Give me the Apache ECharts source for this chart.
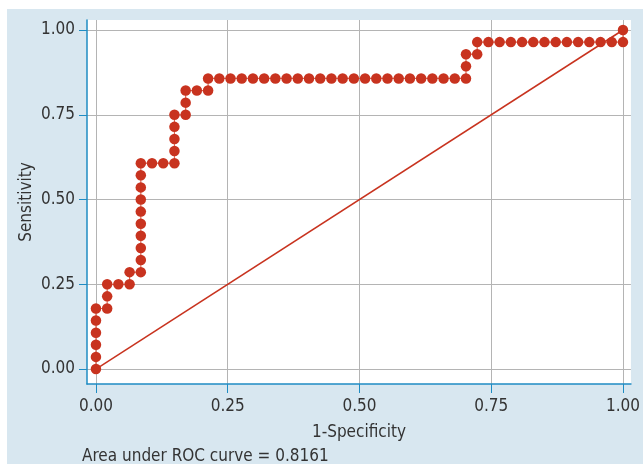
<!DOCTYPE html>
<html>
<head>
<meta charset="utf-8">
<script src="https://cdn.jsdelivr.net/npm/echarts@6/dist/echarts.min.js"></script>
<style>
  html, body { margin: 0; padding: 0; background: #fff; }
  #chart { position: absolute; left: 7px; top: 9px; width: 636px; height: 455px; }
</style>
</head>
<body>
<div id="chart"></div>
<script>
// ROC points as counts: false positives (of 47 negatives), true positives (of 28 positives)
var nNeg = 47;
var nPos = 28;
var fpCounts = [0,0,0,0,0,0, 1,1,1, 2, 3,3, 4,4,4,4,4,4,4,4,4,4, 5,6, 7,7,7,7,7, 8,8,8, 9, 10,10,
  11,12,13,14,15,16,17,18,19,20,21,22,23,24,25,26,27,28,29,30,31,32,33,
  33,33, 34,34, 35,36,37,38,39,40,41,42,43,44,45,46,47, 47];
var tpCounts = [0,1,2,3,4,5, 5,6,7, 7, 7,8, 8,9,10,11,12,13,14,15,16,17, 17,17, 17,18,19,20,21, 21,22,23, 23, 23,24,
  24,24,24,24,24,24,24,24,24,24,24,24,24,24,24,24,24,24,24,24,24,24,24,
  25,26, 26,27, 27,27,27,27,27,27,27,27,27,27,27,27,27, 28];
var tickValues = [0, 0.25, 0.5, 0.75, 1];
var reference = [[0, 0], [1, 1]];
var aucText = 'Area under ROC curve = 0.8161';

var rocData = [];
for (var i = 0; i < fpCounts.length; i++) {
  rocData.push([fpCounts[i] / nNeg, tpCounts[i] / nPos]);
}

var font = "'Liberation Sans Narrow', 'DejaVu Sans Condensed', sans-serif";
var axisBlue = '#1f8cc3';
var red = '#c8331f';

var chart = echarts.init(document.getElementById('chart'));
chart.setOption({
  backgroundColor: '#d8e7f0',
  animation: false,
  textStyle: { fontFamily: font },
  title: {
    text: aucText,
    left: 70,
    top: 434,
    textStyle: { fontFamily: font, fontSize: 17, fontWeight: 'normal', color: '#333' }
  },
  grid: {
    left: 80, top: 11, width: 546, height: 364,
    show: true, backgroundColor: '#fff', borderWidth: 0
  },
  xAxis: {
    type: 'value',
    min: -0.017, max: 1.0151,
    name: '1-Specificity',
    nameLocation: 'middle',
    nameGap: 40,
    nameTextStyle: { fontFamily: font, fontSize: 17, color: '#333' },
    axisLine: { show: true, onZero: false, lineStyle: { color: axisBlue, width: 1.5 } },
    axisTick: { show: true, length: 9, customValues: tickValues, lineStyle: { color: axisBlue, width: 1 } },
    axisLabel: {
      customValues: tickValues, margin: 14, fontSize: 17, color: '#333', fontFamily: font,
      formatter: function (v) { return v.toFixed(2); }
    },
    splitLine: { show: true, lineStyle: { color: '#b4b4b4', width: 1 } }
  },
  yAxis: {
    type: 'value',
    min: -0.0442, max: 1.0295,
    name: 'Sensitivity',
    nameLocation: 'middle',
    nameGap: 52,
    nameMoveOverlap: false,
    nameTextStyle: { fontFamily: font, fontSize: 17, color: '#333' },
    axisLine: { show: true, onZero: false, lineStyle: { color: axisBlue, width: 1.5 } },
    axisTick: { show: true, length: 8, customValues: tickValues, lineStyle: { color: axisBlue, width: 1 } },
    axisLabel: {
      customValues: tickValues, margin: 12, fontSize: 17, color: '#333', fontFamily: font,
      formatter: function (v) { return v.toFixed(2); }
    },
    splitLine: { show: true, lineStyle: { color: '#b4b4b4', width: 1 } }
  },
  series: [
    {
      type: 'line',
      data: reference,
      symbol: 'none',
      lineStyle: { color: red, width: 1.5 }
    },
    {
      type: 'line',
      data: rocData,
      symbol: 'circle',
      symbolSize: 10.5,
      itemStyle: { color: red },
      lineStyle: { color: '#dc6a55', width: 1.2 }
    }
  ]
});
</script>
</body>
</html>
